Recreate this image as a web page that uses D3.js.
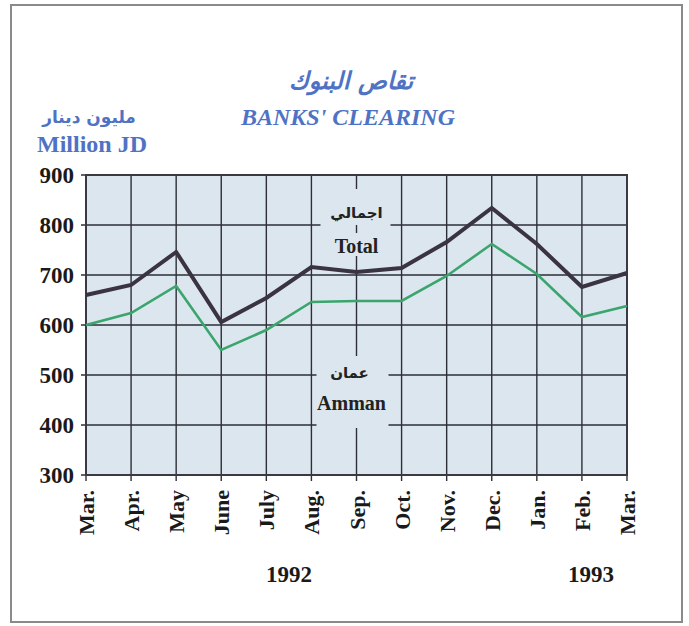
<!DOCTYPE html>
<html lang="en">
<head>
    <meta charset="UTF-8">
    <title>Banks' Clearing</title>
    <script src="https://d3js.org/d3.v7.min.js"></script>
    <style>
        body { margin: 0; background: #fff; }
        svg { display: block; }
        .serif { font-family: 'Liberation Serif', 'Times New Roman', serif; font-weight: bold; }
        .ar { font-family: 'DejaVu Sans', sans-serif; }
    </style>
</head>
<body>
<svg width="689" height="626"></svg>
<script>
    var months = ["Mar.", "Apr.", "May", "June", "July", "Aug.", "Sep.", "Oct.", "Nov.", "Dec.", "Jan.", "Feb.", "Mar."];
    var total = [660, 680, 746, 606, 654, 716, 706, 714, 766, 834, 762, 676, 704];
    var amman = [600, 624, 678, 550, 590, 646, 648, 648, 698, 762, 702, 616, 638];
    var yTicks = [300, 400, 500, 600, 700, 800, 900];
    var years = [{label: "1992", at: 4.5}, {label: "1993", at: 11.2}];

    var svg = d3.select("svg");
    var pLeft = 86, pRight = 627, pTop = 175, pBottom = 475;

    var x = d3.scaleLinear().domain([0, months.length - 1]).range([pLeft, pRight]);
    var y = d3.scaleLinear().domain([300, 900]).range([pBottom, pTop]);

    // outer frame
    svg.append("rect")
        .attr("x", 11).attr("y", 5).attr("width", 671).attr("height", 617)
        .attr("fill", "none").attr("stroke", "#8a8a8a").attr("stroke-width", 2);

    // titles
    svg.append("text").attr("class", "ar")
        .attr("x", 351).attr("y", 89).attr("text-anchor", "middle")
        .attr("font-size", 24).attr("font-weight", "bold").attr("font-style", "italic")
        .attr("fill", "#4f73c4").text("تقاص البنوك");
    svg.append("text").attr("class", "serif")
        .attr("x", 348).attr("y", 125).attr("text-anchor", "middle")
        .attr("font-size", 24).attr("font-style", "italic")
        .attr("fill", "#4f73c4").text("BANKS' CLEARING");
    svg.append("text").attr("class", "ar")
        .attr("x", 89).attr("y", 123).attr("text-anchor", "middle")
        .attr("font-size", 17).attr("font-weight", "bold")
        .attr("fill", "#4f73c4").text("مليون دينار");
    svg.append("text").attr("class", "serif")
        .attr("x", 92).attr("y", 152).attr("text-anchor", "middle")
        .attr("font-size", 24)
        .attr("fill", "#4f73c4").text("Million JD");

    // plot background
    svg.append("rect")
        .attr("x", pLeft).attr("y", pTop).attr("width", pRight - pLeft).attr("height", pBottom - pTop)
        .attr("fill", "#dce6ef");

    // grid
    svg.append("g").selectAll("line").data(yTicks).enter().append("line")
        .attr("x1", pLeft - 5).attr("x2", pRight)
        .attr("y1", d => y(d)).attr("y2", d => y(d))
        .attr("stroke", "#2e2e36").attr("stroke-width", 1.4);
    svg.append("g").selectAll("line").data(months).enter().append("line")
        .attr("x1", (d, i) => x(i)).attr("x2", (d, i) => x(i))
        .attr("y1", pTop).attr("y2", pBottom + 6)
        .attr("stroke", "#2e2e36").attr("stroke-width", 1.4);

    // label boxes breaking the grid
    function labelBox(cx, y0, y1, w) {
        svg.append("rect")
            .attr("x", cx - w / 2).attr("y", y0).attr("width", w).attr("height", y1 - y0)
            .attr("fill", "#dce6ef");
    }
    labelBox(x(6) - 1, 189, 256, 70);
    labelBox(x(6) - 4, 356, 428, 72);
    svg.append("line")
        .attr("x1", x(6)).attr("x2", x(6)).attr("y1", 225).attr("y2", 233)
        .attr("stroke", "#2e2e36").attr("stroke-width", 1.4);

    // plot border
    svg.append("rect")
        .attr("x", pLeft).attr("y", pTop).attr("width", pRight - pLeft).attr("height", pBottom - pTop)
        .attr("fill", "none").attr("stroke", "#3a3a42").attr("stroke-width", 2);

    // lines
    var line = d3.line().x((d, i) => x(i)).y(d => y(d));
    svg.append("path").datum(amman)
        .attr("d", line).attr("fill", "none")
        .attr("stroke", "#3aa56c").attr("stroke-width", 2.6).attr("stroke-linejoin", "miter");
    svg.append("path").datum(total)
        .attr("d", line).attr("fill", "none")
        .attr("stroke", "#3a3340").attr("stroke-width", 4).attr("stroke-linejoin", "miter");

    // series labels
    svg.append("text").attr("class", "ar")
        .attr("x", x(6)).attr("y", 218).attr("text-anchor", "middle")
        .attr("font-size", 15).attr("font-weight", "bold").attr("fill", "#222").text("اجمالي");
    svg.append("text").attr("class", "serif")
        .attr("x", x(6)).attr("y", 253).attr("text-anchor", "middle")
        .attr("font-size", 20).attr("fill", "#222").text("Total");
    svg.append("text").attr("class", "ar")
        .attr("x", x(6) - 7).attr("y", 378).attr("text-anchor", "middle")
        .attr("font-size", 15).attr("font-weight", "bold").attr("fill", "#222").text("عمان");
    svg.append("text").attr("class", "serif")
        .attr("x", x(6) - 5).attr("y", 410).attr("text-anchor", "middle")
        .attr("font-size", 20).attr("fill", "#222").text("Amman");

    // y labels
    svg.append("g").selectAll("text").data(yTicks).enter().append("text")
        .attr("class", "serif")
        .attr("x", 74).attr("y", d => y(d) + 8).attr("text-anchor", "end")
        .attr("font-size", 23).attr("fill", "#1a1a1a").text(d => d);

    // x labels
    svg.append("g").selectAll("text").data(months).enter().append("text")
        .attr("class", "serif")
        .attr("transform", (d, i) => "translate(" + (x(i) + 8) + ",490) rotate(-90)")
        .attr("text-anchor", "end")
        .attr("font-size", 22).attr("fill", "#1a1a1a").text(d => d);

    // years
    svg.append("g").selectAll("text").data(years).enter().append("text")
        .attr("class", "serif")
        .attr("x", d => x(d.at)).attr("y", 582).attr("text-anchor", "middle")
        .attr("font-size", 23).attr("fill", "#1a1a1a").text(d => d.label);
</script>
</body>
</html>
